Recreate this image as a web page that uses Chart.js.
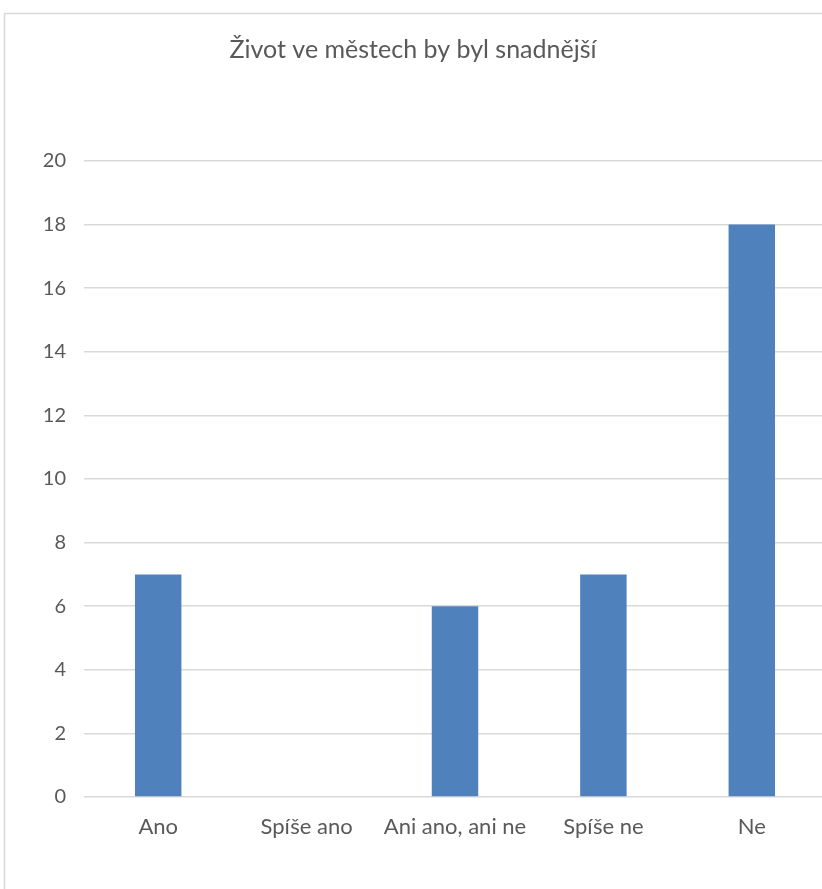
<!DOCTYPE html>
<html>
<head>
<meta charset="utf-8">
<script src="https://cdn.jsdelivr.net/npm/chart.js@4.4.0/dist/chart.umd.min.js"></script>
<style>
  html, body { margin: 0; padding: 0; background: #fff; overflow: hidden; }
  #wrap { position: absolute; left: 0; top: 0; width: 826px; height: 889px; }
</style>
</head>
<body>
<div id="wrap"><canvas id="chart"></canvas></div>
<script>
// data
const chartTitle = 'Život ve městech by byl snadnější';
const categories = ['Ano', 'Spíše ano', 'Ani ano, ani ne', 'Spíše ne', 'Ne'];
const answers = [7, 0, 6, 7, 18];
const yTicks = { min: 0, max: 20, step: 2 };

const textColor = '#595959';
const gridColor = '#d9d9d9';
const fontFamily = 'Lato, "Open Sans", sans-serif';

// light frame round the chart (left and top edges only are visible)
const frame = {
  id: 'frame',
  beforeDraw: chart => {
    const ctx = chart.ctx;
    ctx.save();
    ctx.strokeStyle = gridColor;
    ctx.lineWidth = 1.5;
    ctx.beginPath();
    ctx.moveTo(4.5, chart.height + 5);
    ctx.lineTo(4.5, 13.5);
    ctx.lineTo(chart.width + 5, 13.5);
    ctx.stroke();
    ctx.restore();
  }
};

new Chart(document.getElementById('chart'), {
  type: 'bar',
  data: {
    labels: categories,
    datasets: [{
      data: answers,
      backgroundColor: '#4f81bd',
      categoryPercentage: 1,
      barPercentage: 0.313
    }]
  },
  options: {
    responsive: true,
    maintainAspectRatio: false,
    animation: false,
    layout: { padding: 0 },
    plugins: {
      legend: { display: false },
      tooltip: { enabled: false },
      title: {
        display: true,
        text: chartTitle,
        color: textColor,
        font: { family: fontFamily, size: 25, weight: 'normal', lineHeight: 1.2 },
        padding: { top: 35, bottom: 96 }
      }
    },
    scales: {
      x: {
        grid: { display: false, drawTicks: false },
        border: { display: false },
        ticks: {
          color: textColor,
          padding: 17,
          font: { family: fontFamily, size: 22 },
          maxRotation: 0
        },
        afterFit: scale => { scale.height = 92; }
      },
      y: {
        min: yTicks.min,
        max: yTicks.max,
        grid: { color: gridColor, lineWidth: 1.5, drawTicks: false },
        border: { display: false },
        ticks: {
          stepSize: yTicks.step,
          color: textColor,
          padding: 18,
          font: { family: fontFamily, size: 20 }
        },
        afterFit: scale => { scale.width = 84; }
      }
    }
  },
  plugins: [frame]
});
</script>
</body>
</html>
